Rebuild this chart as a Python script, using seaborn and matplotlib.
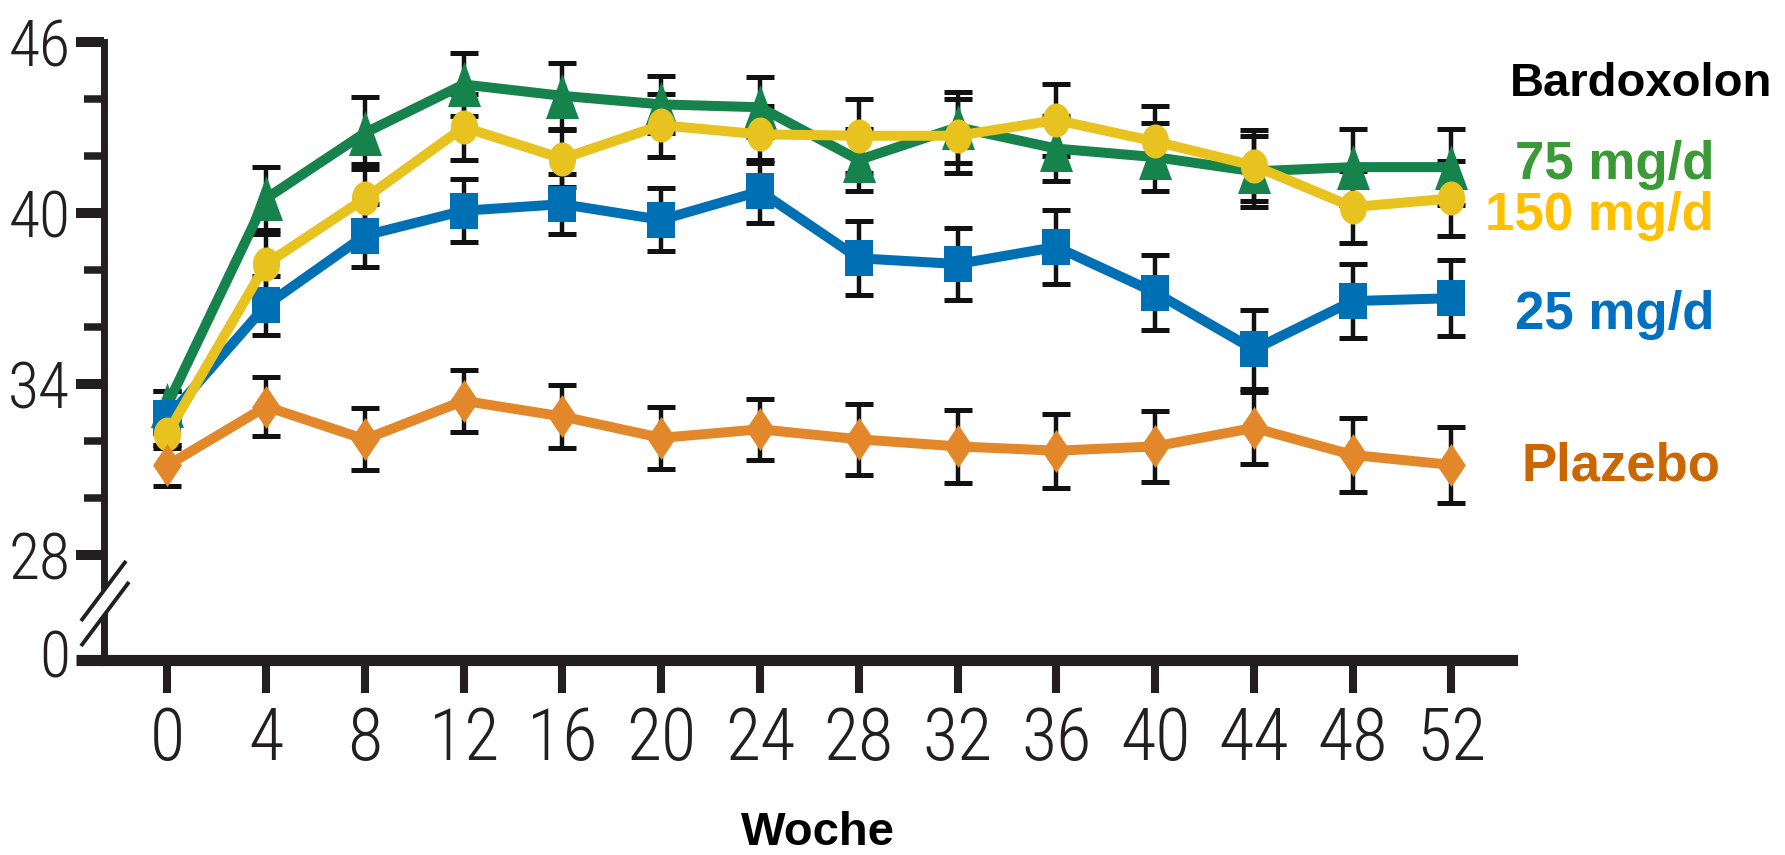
import numpy as np
import pandas as pd
import matplotlib
matplotlib.use("Agg")
import matplotlib.pyplot as plt
import matplotlib.path as mpath
from matplotlib import font_manager
from matplotlib.font_manager import FontProperties
import seaborn as sns

# ---- data: mean eGFR per visit (mL/min/1.73 m²) with standard error ----
weeks = [0, 4, 8, 12, 16, 20, 24, 28, 32, 36, 40, 44, 48, 52]

dose_75 = [33.25, 40.5, 42.8, 44.5, 44.1, 43.8, 43.7, 41.85, 43.0, 42.25, 41.95, 41.45, 41.6, 41.6]
dose_75_se = [0.5, 1.1, 1.25, 1.1, 1.15, 1.0, 1.05, 1.1, 1.25, 1.15, 1.2, 1.25, 1.33, 1.34]

dose_150 = [32.25, 38.2, 40.5, 43.0, 41.9, 43.07, 42.75, 42.7, 42.7, 43.25, 42.5, 41.65, 40.2, 40.5]
dose_150_se = [0.5, 1.05, 1.2, 1.15, 1.0, 1.1, 1.0, 1.3, 1.3, 1.25, 1.25, 1.25, 1.28, 1.3]

dose_25 = [32.8, 36.75, 39.2, 40.07, 40.3, 39.75, 40.75, 38.4, 38.2, 38.8, 37.2, 35.2, 36.9, 37.0]
dose_25_se = [0.95, 1.04, 1.1, 1.1, 1.06, 1.1, 1.1, 1.3, 1.28, 1.3, 1.3, 1.4, 1.3, 1.33]

placebo = [31.13, 33.2, 32.05, 33.4, 32.85, 32.1, 32.4, 32.05, 31.8, 31.65, 31.8, 32.45, 31.5, 31.15]
placebo_se = [0.72, 1.05, 1.08, 1.08, 1.1, 1.08, 1.07, 1.25, 1.27, 1.3, 1.25, 1.25, 1.3, 1.33]

series_names = ["75 mg/d", "25 mg/d", "150 mg/d", "Plazebo"]
header = "Bardoxolon"
x_label = "Woche"

y_major = [28, 34, 40, 46]
y_minor = [30, 32, 36, 38, 42, 44]
y_floor_label = "0"

# ---- figure geometry (pixels at dpi 100) ----
W, H = 1785, 855
DPI = 100
ax_left_px, ax_right_px = 103.7, 1512.0
ax_top_px, ax_bottom_px = 41.7, 659.5
y_top = 46.0
px_per_unit = 28.5
y_floor = y_top - (ax_bottom_px - ax_top_px) / px_per_unit   # value at the broken axis base
x_lo, x_hi = -2.575, 54.45

INK = "#231f20"

sns.set_theme(style="white")
plt.rcParams["font.family"] = ["Liberation Sans", "DejaVu Sans"]


def narrow_font(size):
    names = {f.name for f in font_manager.fontManager.ttflist}
    for cand in ["Liberation Sans Narrow", "DejaVu Sans Condensed", "Roboto Condensed"]:
        if cand in names:
            return FontProperties(family=cand, size=size, weight="light")
    cond = [f for f in font_manager.fontManager.ttflist
            if f.name == "DejaVu Sans" and f.stretch in ("condensed", "semi-condensed")]
    if cond:
        return FontProperties(family="DejaVu Sans", stretch="condensed", size=size)
    return FontProperties(family="Liberation Sans", size=size * 0.85)


def closed_path(pts):
    pts = list(pts) + [pts[0]]
    codes = [mpath.Path.MOVETO] + [mpath.Path.LINETO] * (len(pts) - 2) + [mpath.Path.CLOSEPOLY]
    return mpath.Path(pts, codes)


def ellipse_marker(sx):
    c = mpath.Path.unit_circle()
    return mpath.Path(c.vertices * np.array([sx, 1.0]), c.codes)


tri_marker = closed_path([(0, 1), (0.733, -1), (-0.733, -1)])
sq_marker = closed_path([(-0.78, -1), (0.78, -1), (0.78, 1), (-0.78, 1)])
dia_marker = closed_path([(0, 1), (0.67, 0), (0, -1), (-0.67, 0)])
circ_marker = ellipse_marker(0.8)

styles = {
    "75 mg/d": dict(values=dose_75, se=dose_75_se, color="#15834b", marker=tri_marker, ms=32.4, z=3),
    "25 mg/d": dict(values=dose_25, se=dose_25_se, color="#0070b4", marker=sq_marker, ms=25.9, z=4),
    "150 mg/d": dict(values=dose_150, se=dose_150_se, color="#e8c21e", marker=circ_marker, ms=24.5, z=5),
    "Plazebo": dict(values=placebo, se=placebo_se, color="#e2882a", marker=dia_marker, ms=31.0, z=6),
}

fig = plt.figure(figsize=(W / DPI, H / DPI), dpi=DPI)
ax = fig.add_axes([ax_left_px / W, 1 - ax_bottom_px / H,
                   (ax_right_px - ax_left_px) / W, (ax_bottom_px - ax_top_px) / H])

for name in series_names:
    st = styles[name]
    ax.errorbar(weeks, st["values"], yerr=st["se"], fmt="none", ecolor="#111111",
                elinewidth=3.2, capsize=10, capthick=3.6, zorder=2)

for name in series_names:
    st = styles[name]
    df = pd.DataFrame({"Woche": weeks, "eGFR": st["values"]})
    sns.lineplot(data=df, x="Woche", y="eGFR", ax=ax, color=st["color"], linewidth=7.2,
                 marker=st["marker"], markersize=st["ms"], markeredgewidth=0,
                 markerfacecolor=st["color"], errorbar=None, zorder=st["z"])

ax.set_xlim(x_lo, x_hi)
ax.set_ylim(y_floor, y_top)
ax.set_xlabel("")
ax.set_ylabel("")

for side in ["top", "right"]:
    ax.spines[side].set_visible(False)
ax.spines["left"].set_linewidth(5.0)
ax.spines["left"].set_color(INK)
ax.spines["left"].set_capstyle("projecting")
ax.spines["bottom"].set_linewidth(8.0)
ax.spines["bottom"].set_color(INK)

ax.set_xticks(weeks)
ax.set_xticklabels([str(w) for w in weeks], fontproperties=narrow_font(52), color=INK)
ax.set_yticks([y_floor] + y_major)
ax.set_yticklabels([y_floor_label] + [str(v) for v in y_major], fontproperties=narrow_font(46), color=INK)
ax.set_yticks(y_minor, minor=True)

ax.tick_params(axis="x", which="major", direction="out", length=24, width=5.8, color=INK, pad=9, bottom=True)
ax.tick_params(axis="y", which="major", direction="out", length=20, width=7.2, color=INK, pad=4, left=True)
ax.tick_params(axis="y", which="minor", direction="out", length=14.4, width=5.4, color=INK, left=True)
# the base tick continues the x axis line to the left
ax.yaxis.get_major_ticks()[0].tick1line.set_markeredgewidth(8.0)
ax.yaxis.get_major_ticks()[0].label1.set_va("center")

# axis break between 28 and 0
def ax_frac(px, py):
    return ((px - ax_left_px) / (ax_right_px - ax_left_px), (ax_bottom_px - py) / (ax_bottom_px - ax_top_px))

s1 = [ax_frac(81, 621), ax_frac(126, 561)]
s2 = [ax_frac(81, 646), ax_frac(129, 582)]
gap = plt.Polygon([s1[0], s1[1], s2[1], s2[0]], closed=True, transform=ax.transAxes,
                  facecolor="white", edgecolor="none", clip_on=False, zorder=10)
ax.add_patch(gap)
for seg in (s1, s2):
    ax.plot([seg[0][0], seg[1][0]], [seg[0][1], seg[1][1]], transform=ax.transAxes,
            color=INK, linewidth=2.8, clip_on=False, zorder=11, solid_capstyle="butt")

# series labels on the right
def ftext(xpx, ypx, s, color, size, ha="right"):
    fig.text(xpx / W, 1 - ypx / H, s, ha=ha, va="baseline", color=color,
             fontsize=size, fontweight="bold", family=["Liberation Sans", "DejaVu Sans"])

ftext(1772, 96, header, "#000000", 34)
ftext(1714, 179, "75 mg/d", "#3a9a35", 38)
ftext(1714, 230, "150 mg/d", "#ffc000", 38)
ftext(1714, 329, "25 mg/d", "#0070c0", 38)
ftext(1720, 480, "Plazebo", "#cc6600", 38)
ftext(818, 845, x_label, "#000000", 34, ha="center")

fig.savefig("out.png", dpi=DPI, facecolor="white")
